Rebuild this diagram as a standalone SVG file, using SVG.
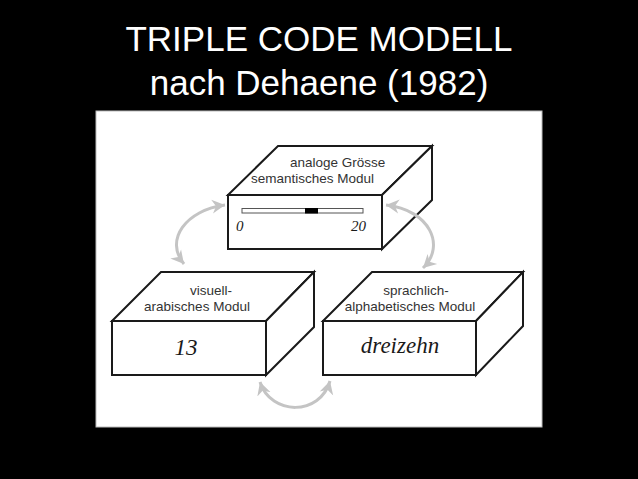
<svg xmlns="http://www.w3.org/2000/svg" width="638" height="479" viewBox="0 0 638 479">
  <defs>
    <style>
      .title { font-family: "Liberation Sans", Arial, sans-serif; font-size: 35px; fill: #ffffff; text-anchor: middle; }
      .face { fill: #ffffff; stroke: #1a1a1a; stroke-width: 2; stroke-linejoin: miter; }
      .lbl { font-family: "Liberation Sans", Arial, sans-serif; font-size: 13.5px; fill: #333333; }
      .num { font-family: "Liberation Serif", "Times New Roman", serif; font-style: italic; fill: #1a1a1a; }
      .conn { fill: none; stroke: #c4c4c4; stroke-width: 3; marker-start: url(#ah); marker-end: url(#ah); }
    </style>
    <marker id="ah" markerUnits="userSpaceOnUse" markerWidth="16" markerHeight="16" refX="13" refY="7" orient="auto-start-reverse" viewBox="0 0 16 14">
      <path d="M0,0 L13,7 L0,14 L4,7 z" fill="#c4c4c4"/>
    </marker>
  </defs>

  <rect x="0" y="0" width="638" height="479" fill="#000000"/>
  <text class="title" x="319" y="51">TRIPLE CODE MODELL</text>
  <text class="title" x="319" y="95">nach Dehaene (1982)</text>

  <rect x="96" y="111" width="446" height="316" fill="#ffffff" stroke="#bbbbbb" stroke-width="1"/>

  <g id="semantic">
    <polygon class="face" points="228,195 278,146 432,146 382,195"/>
    <polygon class="face" points="382,195 432,146 432,200 382,249"/>
    <rect class="face" x="228" y="195" width="154" height="54"/>
    <text class="lbl" x="290" y="167">analoge Grösse</text>
    <text class="lbl" x="251" y="183">semantisches Modul</text>
    <rect x="242" y="208.5" width="121" height="4.5" fill="#ffffff" stroke="#555555" stroke-width="1"/>
    <rect x="305" y="208" width="13" height="5.5" fill="#000000"/>
    <text class="num" x="236" y="231" font-size="15">0</text>
    <text class="num" x="366" y="231" font-size="15" text-anchor="end">20</text>
  </g>

  <g id="visual">
    <polygon class="face" points="112,321 161,272 314,272 266,321"/>
    <polygon class="face" points="266,321 314,272 314,327 266,375"/>
    <rect class="face" x="112" y="321" width="154" height="54"/>
    <text class="lbl" x="211" y="295" text-anchor="middle">visuell-</text>
    <text class="lbl" x="197" y="311" text-anchor="middle">arabisches Modul</text>
    <text class="num" x="186" y="355" font-size="23" text-anchor="middle">13</text>
  </g>

  <g id="verbal">
    <polygon class="face" points="323,321 372,272 523,272 476,321"/>
    <polygon class="face" points="476,321 523,272 523,326 476,375"/>
    <rect class="face" x="323" y="321" width="153" height="54"/>
    <text class="lbl" x="416" y="295" text-anchor="middle">sprachlich-</text>
    <text class="lbl" x="410" y="311" text-anchor="middle">alphabetisches Modul</text>
    <text class="num" x="400" y="353" font-size="23" text-anchor="middle">dreizehn</text>
  </g>

  <g id="connectors">
    <path class="conn" d="M225,205 C186,210 164,240 184,264"/>
    <path class="conn" d="M386,205 C430,210 446,246 423,268"/>
    <path class="conn" d="M260,382 C271,416 320,416 330,381"/>
  </g>
</svg>
